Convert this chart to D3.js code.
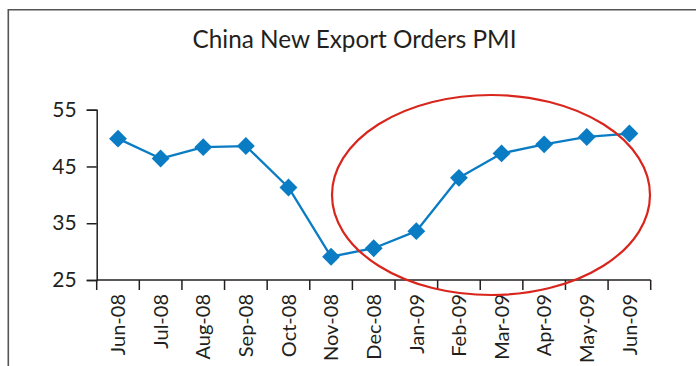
<!DOCTYPE html>
<html>
<head>
<meta charset="utf-8">
<script src="https://cdn.jsdelivr.net/npm/d3@7"></script>
<style>
  html, body { margin: 0; padding: 0; background: #fff; }
  svg { display: block; }
  text { font-family: "Lato", "Noto Sans", sans-serif; fill: #231f20; }
</style>
</head>
<body>
<svg id="chart" width="696" height="366"></svg>
<script>
const categories = ["Jun-08","Jul-08","Aug-08","Sep-08","Oct-08","Nov-08","Dec-08","Jan-09","Feb-09","Mar-09","Apr-09","May-09","Jun-09"];
const values = [49.9, 46.4, 48.4, 48.6, 41.3, 29.1, 30.6, 33.6, 43.0, 47.3, 48.9, 50.2, 50.8];
const yTicks = [25, 35, 45, 55];
const title = "China New Export Orders PMI";

(function () {
const svg = d3.select("#chart");
const W = 696, H = 366;
const pLeft = 96.7, pRight = 650.7, pTop = 109.7, pBottom = 280;

// frame
svg.append("line").attr("x1", 8).attr("x2", W).attr("y1", 9.8).attr("y2", 9.8)
  .attr("stroke", "#555").attr("stroke-width", 1.6);
svg.append("line").attr("x1", 8.3).attr("x2", 8.3).attr("y1", 9).attr("y2", H)
  .attr("stroke", "#555").attr("stroke-width", 1.6);

// title
svg.append("text").attr("x", 354.5).attr("y", 47.5).attr("text-anchor", "middle")
  .attr("font-size", 24.3).text(title);

const x = d3.scaleBand().domain(categories).range([pLeft, pRight]).padding(0);
const y = d3.scaleLinear().domain([25, 55]).range([pBottom, pTop]);

const axisColor = "#231f20";

// y axis
const yAxis = svg.append("g").attr("transform", `translate(${pLeft},0)`)
  .call(d3.axisLeft(y).tickValues(yTicks).tickSize(10).tickPadding(10).tickFormat(d3.format("d")));
yAxis.select(".domain").attr("stroke", axisColor).attr("stroke-width", 1.5);
yAxis.selectAll(".tick line").attr("stroke", axisColor).attr("stroke-width", 1.5);
yAxis.selectAll(".tick text").attr("font-size", 21).attr("font-family", "Lato, 'Noto Sans', sans-serif").attr("fill", axisColor);

// x axis: line with boundary ticks
const xg = svg.append("g");
xg.append("line").attr("x1", pLeft).attr("x2", pRight).attr("y1", pBottom).attr("y2", pBottom)
  .attr("stroke", axisColor).attr("stroke-width", 1.5);
const bounds = categories.map(c => x(c)).concat([x(categories[categories.length - 1]) + x.bandwidth()]);
xg.selectAll("line.tk").data(bounds).join("line").attr("class", "tk")
  .attr("x1", d => d).attr("x2", d => d).attr("y1", pBottom).attr("y2", pBottom + 10)
  .attr("stroke", axisColor).attr("stroke-width", 1.5);
xg.selectAll("text.lbl").data(categories).join("text").attr("class", "lbl")
  .attr("transform", d => `translate(${x(d) + x.bandwidth() / 2},${pBottom + 14}) rotate(-90)`)
  .attr("text-anchor", "end").attr("dy", "0.36em").attr("font-size", 20)
  .text(d => d);

// line
const line = d3.line().x((d, i) => x(categories[i]) + x.bandwidth() / 2).y(d => y(d));
svg.append("path").datum(values).attr("d", line).attr("fill", "none")
  .attr("stroke", "#0a7cc4").attr("stroke-width", 2.3).attr("stroke-linejoin", "round");

// markers
const sym = d3.symbol().type(d3.symbolSquare).size(160);
svg.selectAll("path.mk").data(values).join("path").attr("class", "mk")
  .attr("d", sym)
  .attr("transform", (d, i) => `translate(${x(categories[i]) + x.bandwidth() / 2},${y(d)}) rotate(45)`)
  .attr("fill", "#0a7cc4");

// red ellipse annotation
svg.append("ellipse").attr("cx", 491).attr("cy", 195).attr("rx", 159).attr("ry", 100)
  .attr("fill", "none").attr("stroke", "#d8261d").attr("stroke-width", 2.2);
})();
</script>
</body>
</html>
